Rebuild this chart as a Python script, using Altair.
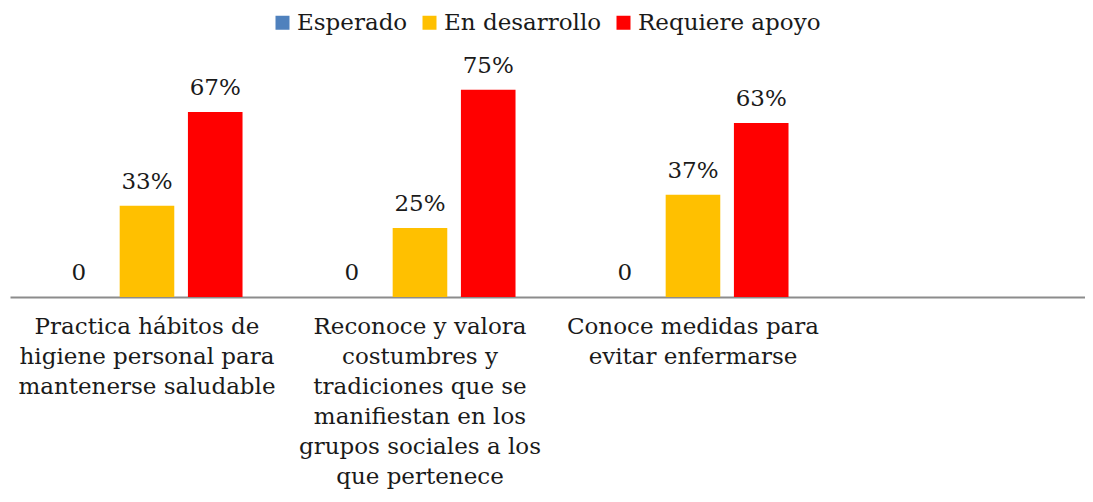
import altair as alt
import pandas as pd

categories = [
    "Practica hábitos de|higiene personal para|mantenerse saludable",
    "Reconoce y valora|costumbres y|tradiciones que se|manifiestan en los|grupos sociales a los|que pertenece",
    "Conoce medidas para|evitar enfermarse",
    " ",
]
series = ["Esperado", "En desarrollo", "Requiere apoyo"]
esperado = [0, 0, 0]
en_desarrollo = [33, 25, 37]
requiere_apoyo = [67, 75, 63]
colors = ["#4F81BD", "#FFC000", "#FF0000"]

FONT = "DejaVu Serif"
FS = 23

rows = []
for i, cat in enumerate(categories[:3]):
    for s, vals in zip(series, [esperado, en_desarrollo, requiere_apoyo]):
        v = vals[i]
        rows.append({"cat": cat, "series": s, "value": v,
                     "label": "0" if v == 0 else f"{v}%"})
df = pd.DataFrame(rows)

base = alt.Chart(df).encode(
    x=alt.X("cat:N", sort=categories,
            scale=alt.Scale(domain=categories, paddingInner=0.25,
                            paddingOuter=0.0939, align=0.675),
            axis=alt.Axis(title=None, labelExpr="split(datum.label, '|')",
                          labelAngle=0, labelFont=FONT, labelFontSize=FS,
                          labelLineHeight=30, labelColor="#1a1a1a",
                          labelPadding=18, ticks=False,
                          domainColor="#8c8c8c", domainWidth=2,
                          labelLimit=400)),
    xOffset=alt.XOffset("series:N", sort=series,
                        scale=alt.Scale(domain=series, paddingInner=0.2, paddingOuter=0.1)),
    y=alt.Y("value:Q", scale=alt.Scale(domain=[0, 80]), axis=None),
)

bars = base.mark_bar().encode(
    color=alt.Color("series:N", sort=series,
                    scale=alt.Scale(domain=series, range=colors),
                    legend=alt.Legend(title=None, orient="none", direction="horizontal",
                                      legendX=261, legendY=-65,
                                      symbolType="square", symbolSize=196,
                                      symbolStrokeWidth=0, labelFont=FONT,
                                      labelFontSize=FS, labelColor="#1a1a1a",
                                      labelOffset=3, columnPadding=10,
                                      labelLimit=400))
)

text = base.mark_text(dy=-12, baseline="bottom", font=FONT, fontSize=FS,
                      color="#1a1a1a").encode(text="label:N")

chart = (bars + text).properties(
    width=1075, height=221, autosize="none",
    padding={"left": 2, "top": 68, "right": 0, "bottom": 192},
).configure_view(stroke=None)

chart.save("out.html", embed_options={"renderer": "svg", "actions": False})
